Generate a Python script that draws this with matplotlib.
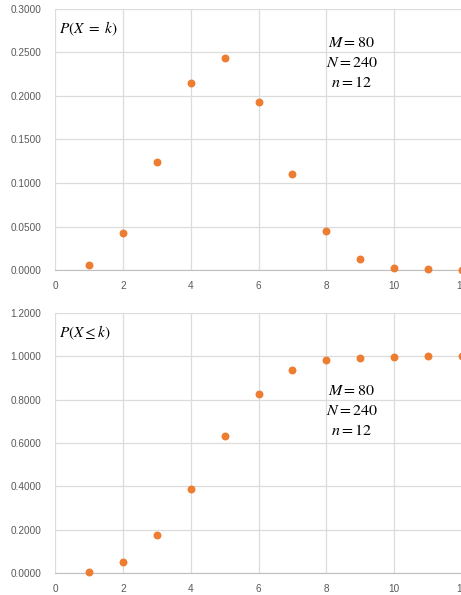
import matplotlib.pyplot as plt
from matplotlib.ticker import FormatStrFormatter, MultipleLocator

plt.rcParams['mathtext.fontset'] = 'stix'
plt.rcParams['font.family'] = ['Liberation Sans', 'DejaVu Sans']

# 超几何分布 M=80, N=240, n=12
k = [1, 2, 3, 4, 5, 6, 7, 8, 9, 10, 11, 12]
pmf = [0.0063, 0.0428, 0.1247, 0.2144, 0.2437, 0.1934,
       0.1100, 0.0446, 0.0129, 0.0025, 0.0006, 0.0001]
cdf = [0.0063, 0.0491, 0.1738, 0.3882, 0.6319, 0.8253,
       0.9363, 0.9809, 0.9938, 0.9988, 0.9998, 1.0000]

orange = '#ED7D31'
grid_c = '#dcdcdc'
tick_c = '#595959'

fig = plt.figure(figsize=(4.61, 5.95), dpi=100)
ax1 = fig.add_axes([0.1193, 0.5462, 0.8829, 0.4387])
ax2 = fig.add_axes([0.1193, 0.0370, 0.8829, 0.4370])


def style(ax, ymax, ystep):
    ax.set_xlim(0, 12)
    ax.set_ylim(0, ymax)
    ax.xaxis.set_major_locator(MultipleLocator(2))
    ax.yaxis.set_major_locator(MultipleLocator(ystep))
    ax.yaxis.set_major_formatter(FormatStrFormatter('%.4f'))
    ax.grid(True, color=grid_c, linewidth=0.9)
    ax.set_axisbelow(True)
    for s in ['top', 'right', 'left']:
        ax.spines[s].set_visible(False)
    ax.spines['bottom'].set_color('#bfbfbf')
    ax.tick_params(length=0, labelsize=7.2, colors=tick_c)
    ax.tick_params(axis='x', pad=8)
    ax.tick_params(axis='y', pad=10)


style(ax1, 0.3, 0.05)
ax1.scatter(k, pmf, s=22, color=orange, zorder=3, clip_on=False)
ax1.text(0.12, 0.2775, r'$P(X\ =\ k)$', fontsize=11, va='center')
ax1.text(8.75, 0.262, r'$M = 80$', fontsize=11.5, ha='center', va='center')
ax1.text(8.75, 0.2385, r'$N = 240$', fontsize=11.5, ha='center', va='center')
ax1.text(8.75, 0.215, r'$n = 12$', fontsize=11.5, ha='center', va='center')

style(ax2, 1.2, 0.2)
ax2.scatter(k, cdf, s=22, color=orange, zorder=3, clip_on=False)
ax2.text(0.12, 1.11, r'$P(X\leq k)$', fontsize=11, va='center')
ax2.text(8.75, 0.84, r'$M = 80$', fontsize=11.5, ha='center', va='center')
ax2.text(8.75, 0.748, r'$N = 240$', fontsize=11.5, ha='center', va='center')
ax2.text(8.75, 0.656, r'$n = 12$', fontsize=11.5, ha='center', va='center')

plt.savefig('out.png', dpi=100)
